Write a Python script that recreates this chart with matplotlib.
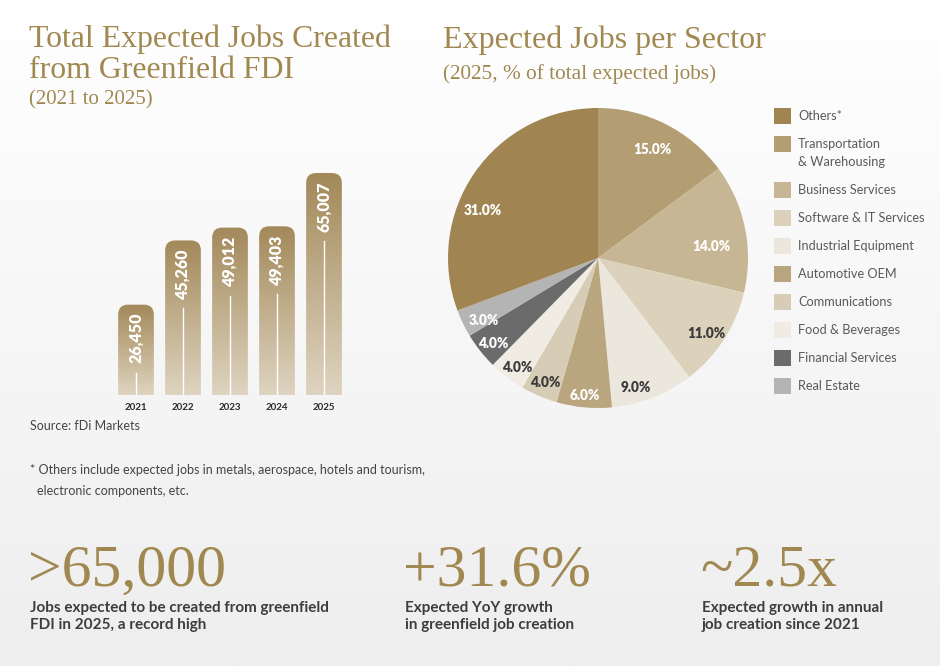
import numpy as np
import matplotlib
matplotlib.use("Agg")
import matplotlib.pyplot as plt
from matplotlib.colors import to_rgb
from matplotlib.patches import FancyBboxPatch, Rectangle

W, H = 940, 666

# bar chart data
years = ["2021", "2022", "2023", "2024", "2025"]
jobs = [26450, 45260, 49012, 49403, 65007]

# pie data (clockwise from 12 o'clock)
sectors = ["Transportation\n& Warehousing", "Business Services", "Software & IT Services",
           "Industrial Equipment", "Automotive OEM", "Communications", "Food & Beverages",
           "Financial Services", "Real Estate", "Others*"]
shares = [15.0, 14.0, 11.0, 9.0, 6.0, 4.0, 4.0, 4.0, 3.0, 31.0]
legend_order = ["Others*", "Transportation\n& Warehousing", "Business Services",
                "Software & IT Services", "Industrial Equipment", "Automotive OEM",
                "Communications", "Food & Beverages", "Financial Services", "Real Estate"]

# headline figures
kpi_values = [">65,000", "+31.6%", "~2.5x"]
kpi_notes = ["Jobs expected to be created from greenfield\nFDI in 2025, a record high",
             "Expected YoY growth\nin greenfield job creation",
             "Expected growth in annual\njob creation since 2021"]

GOLD = "#a08850"
DARK = "#3d3d3d"
sector_colors = {
    "Others*": "#a08552",
    "Transportation\n& Warehousing": "#b39d72",
    "Business Services": "#c7b693",
    "Software & IT Services": "#dcd2bc",
    "Industrial Equipment": "#ece7dd",
    "Automotive OEM": "#b9a57e",
    "Communications": "#d7ccb5",
    "Food & Beverages": "#f0ece4",
    "Financial Services": "#6b6b6b",
    "Real Estate": "#b4b4b4",
}
light_slices = {"Software & IT Services", "Industrial Equipment", "Communications", "Food & Beverages"}

SERIF = ["Liberation Serif", "DejaVu Serif"]
SANS = ["Lato", "DejaVu Sans"]


def fx(x):
    return x / W


def fy(y):
    return 1 - y / H


fig = plt.figure(figsize=(W / 100, H / 100), dpi=100)

# background gradient
bg = fig.add_axes([0, 0, 1, 1])
top_c, bot_c = np.array(to_rgb("#ffffff")), np.array(to_rgb("#eeeeee"))
t = np.linspace(0, 1, 256)[:, None, None]
grad = top_c * (1 - t) + bot_c * t
bg.imshow(np.repeat(grad, 2, axis=1), aspect="auto", extent=[0, 1, 0, 1])
bg.set_axis_off()

# ---------- bar chart ----------
step = 47.0
x0, x_lo, x_hi = 136.0, -0.76, 4.76
y_base, y_top_px = 395.0, 150.0
ymax = 65007 * (y_base - y_top_px) / (y_base - 173.0)
axb = fig.add_axes([fx(x0 + x_lo * step), fy(y_base), (x_hi - x_lo) * step / W, (y_base - y_top_px) / H])
axb.set_xlim(x_lo, x_hi)
axb.set_ylim(0, ymax)
axb.set_axis_off()

xs = np.arange(len(years))
bars = axb.bar(xs, jobs, width=0.76, color="none", edgecolor="none")
units_per_px_y = ymax / (y_base - y_top_px)
units_per_px_x = 1 / step
c_top, c_bot = np.array(to_rgb("#a3895a")), np.array(to_rgb("#ded4c0"))
for bar, val in zip(bars, jobs):
    bx, bw, bh = bar.get_x(), bar.get_width(), bar.get_height()
    r = 10 * units_per_px_x
    shape = FancyBboxPatch((bx, -ymax * 0.2), bw, bh + ymax * 0.2,
                           boxstyle=f"round,pad=0,rounding_size={r}",
                           mutation_aspect=units_per_px_y / units_per_px_x,
                           facecolor="none", edgecolor="none")
    axb.add_patch(shape)
    g = np.linspace(0, 1, 200)[:, None, None]
    img = c_top * (1 - g) + c_bot * g
    im = axb.imshow(np.repeat(img, 2, axis=1), aspect="auto", extent=[bx, bx + bw, 0, bh], zorder=2)
    im.set_clip_path(shape)
    axb.text(bx + bw / 2, bh - 8 * units_per_px_y, f"{val:,}", rotation=90,
             ha="center", va="top", color="white", fontsize=11.5, fontweight="heavy",
             family=SANS, zorder=3)
    axb.plot([bx + bw / 2] * 2, [bh - 68 * units_per_px_y, 0], color="white", lw=1.0, zorder=3)
for xi, yr in zip(xs, years):
    axb.text(xi, -12 * units_per_px_y, yr, ha="center", va="center", fontsize=7,
             fontweight="bold", color="#2a2a2a", family=SANS, clip_on=False)

# ---------- pie ----------
cx, cy, rad = 598, 258, 150
axp = fig.add_axes([fx(cx - rad), fy(cy + rad), 2 * rad / W, 2 * rad / H])
wedges, _ = axp.pie(shares, colors=[sector_colors[s] for s in sectors], startangle=90,
                    counterclock=False, radius=1.0, wedgeprops=dict(linewidth=0))
axp.set_xlim(-1, 1)
axp.set_ylim(-1, 1)
axp.set_axis_off()
label_dist = [0.81, 0.76, 0.88, 0.9, 0.92, 0.9, 0.91, 0.9, 0.87, 0.83]
label_turn = [0, -6, -2, -5, 0, 0, 1, 1, 3, 12.5]
for w, s, v, d, turn in zip(wedges, sectors, shares, label_dist, label_turn):
    ang = np.deg2rad((w.theta1 + w.theta2) / 2 + turn)
    axp.text(d * np.cos(ang), d * np.sin(ang), f"{v:.1f}%", ha="center", va="center",
             fontsize=9.8, fontweight="heavy", family=SANS,
             color="#3a3a3a" if s in light_slices else "white")

# legend
ly = 116
for name in legend_order:
    fig.patches.append(Rectangle((fx(774), fy(ly + 8)), 17 / W, 16 / H, transform=fig.transFigure,
                                 facecolor=sector_colors[name], edgecolor="none"))
    lines = name.split("\n")
    for k, line in enumerate(lines):
        fig.text(fx(798), fy(ly + 18 * k), line, ha="left", va="center", fontsize=9.2,
                 color="#5a5a5a", family=SANS)
    ly += 28 + 18 * (len(lines) - 1)

# ---------- titles ----------
fig.text(fx(29), fy(47), "Total Expected Jobs Created", fontsize=22.9, color=GOLD, family=SERIF, va="baseline")
fig.text(fx(29), fy(78), "from Greenfield FDI", fontsize=22.9, color=GOLD, family=SERIF, va="baseline")
fig.text(fx(29), fy(104), "(2021 to 2025)", fontsize=15, color=GOLD, family=SERIF, va="baseline")
fig.text(fx(443), fy(48), "Expected Jobs per Sector", fontsize=23, color=GOLD, family=SERIF, va="baseline")
fig.text(fx(443), fy(79), "(2025, % of total expected jobs)", fontsize=15.3, color=GOLD, family=SERIF,
         va="baseline")

fig.text(fx(30), fy(426), "Source: fDi Markets", fontsize=9, color="#444444", family=SANS, va="center")
fig.text(fx(30), fy(470), "* Others include expected jobs in metals, aerospace, hotels and tourism,",
         fontsize=9, color="#444444", family=SANS, va="center")
fig.text(fx(37), fy(491), "electronic components, etc.", fontsize=9, color="#444444", family=SANS,
         va="center")

# ---------- KPIs ----------
kpi_x = [28, 403, 700]
for x, val, note in zip(kpi_x, kpi_values, kpi_notes):
    fig.text(fx(x), fy(586), val, fontsize=43, color=GOLD, family=SERIF, va="baseline")
    fig.text(fx(x + 2), fy(601), note, fontsize=11, color=DARK, fontweight="bold",
             family=SANS, va="top", linespacing=1.3)

fig.savefig("out.png", dpi=100)
